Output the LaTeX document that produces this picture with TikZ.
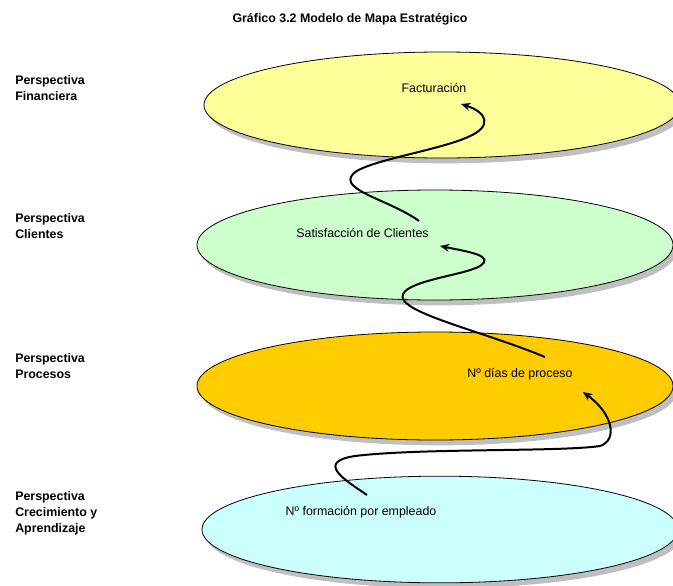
\documentclass[tikz,border=0pt]{standalone}
\usepackage{fontspec}
\setmainfont{Liberation Sans}
\usetikzlibrary{arrows.meta,shapes.geometric,shadows}

\definecolor{finfill}{HTML}{FFFF99}
\definecolor{clifill}{HTML}{CCFFCC}
\definecolor{procfill}{HTML}{FFCC00}
\definecolor{crecfill}{HTML}{CCFFFF}

\begin{document}
\begin{tikzpicture}[
    x=0.75pt, y=-0.75pt,
    layer/.style={
        ellipse,
        draw,
        line width=0.6pt,
        minimum width=357pt,
        minimum height=81pt,
        inner sep=0pt,
        drop shadow={shadow xshift=3pt, shadow yshift=-4pt, fill=black!25, opacity=1}
    },
    goal/.style={font=\fontsize{9.3}{12}\selectfont, inner sep=0pt},
    persp/.style={
        font=\fontsize{9.3}{12}\selectfont\bfseries,
        align=left,
        anchor=west,
        inner sep=0pt
    },
    link/.style={-{Stealth[length=7pt,width=6pt]}, line width=1.5pt}
]
\useasboundingbox (0,0) rectangle (673,585);

\node[font=\fontsize{9.3}{12}\selectfont\bfseries] (title) at (350,19) {Gráfico 3.2 Modelo de Mapa Estratégico};

% perspectivas
\node[persp] (pfin) at (15,88) {Perspectiva\\Financiera};
\node[persp] (pcli) at (15,226) {Perspectiva\\Clientes};
\node[persp] (pproc) at (15,366) {Perspectiva\\Procesos};
\node[persp] (pcrec) at (15,513) {Perspectiva\\Crecimiento y\\Aprendizaje};

% elipses
\node[layer, fill=finfill, minimum height=79.5pt] (fin) at (442,105) {};
\node[layer, fill=clifill, minimum height=82.5pt] (cli) at (435,245) {};
\node[layer, fill=procfill] (proc) at (435,386) {};
\node[layer, fill=crecfill, minimum height=80pt] (crec) at (440,529.5) {};

\node[goal] (fact) at (434,88) {Facturación};
\node[goal] (satis) at (362.5,233) {Satisfacción de Clientes};
\node[goal] (dias) at (520,374) {Nº días de proceso};
\node[goal] (form) at (361,512) {Nº formación por empleado};

\draw[link] ([shift={(6,-17)}]form.center) .. controls (345,480) and (315,462) .. (355,456)
    .. controls (420,448) and (560,452) .. (600,446)
    .. controls (618,440) and (613,414) .. ([shift={(63,18)}]dias.center);
\draw[link] ([shift={(25,-17)}]dias.center) .. controls (480,330) and (395,312) .. (403,294)
    .. controls (410,280) and (465,275) .. (480,266)
    .. controls (495,256) and (470,252) .. ([shift={(77.5,13)}]satis.center);
\draw[link] ([shift={(56.5,-12)}]satis.center) .. controls (390,200) and (338,190) .. (353,174)
    .. controls (365,161) and (440,150) .. (468,137)
    .. controls (494,126) and (486,112) .. ([shift={(27,16)}]fact.center);
\end{tikzpicture}
\end{document}
